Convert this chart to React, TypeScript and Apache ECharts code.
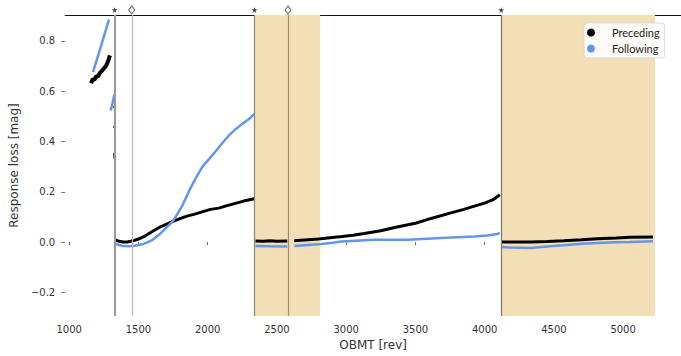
import React, { useEffect, useRef } from "react";
import * as echarts from "echarts";

// ---- data ----
const xTicks = [1000, 1500, 2000, 2500, 3000, 3500, 4000, 4500, 5000];
const yTicks = [-0.2, 0, 0.2, 0.4, 0.6, 0.8];

const precedingSeg1 = [[1158, 0.632], [1170, 0.648], [1182, 0.645], [1195, 0.66], [1208, 0.658], [1220, 0.672], [1235, 0.68], [1250, 0.69], [1265, 0.70], [1280, 0.718], [1294, 0.742]];
const precedingDots = [[1328, 0.537], [1328, 0.458], [1327, 0.35], [1328, 0.342], [1329, 0.336]];
const precedingSeg2 = [[1330, 0.01], [1360, 0.003], [1390, 0.0], [1420, 0.0], [1460, 0.005], [1500, 0.012], [1550, 0.025], [1600, 0.042], [1650, 0.058], [1700, 0.07], [1750, 0.082], [1800, 0.093], [1850, 0.103], [1900, 0.11], [1960, 0.12], [2020, 0.13], [2080, 0.135], [2140, 0.145], [2200, 0.154], [2260, 0.163], [2336, 0.172]];
const precedingSeg3a = [[2345, 0.004], [2400, 0.003], [2450, 0.005], [2500, 0.003], [2575, 0.004]];
const precedingSeg3b = [[2625, 0.005], [2700, 0.008], [2800, 0.012], [2900, 0.018], [2970, 0.022], [3050, 0.027], [3130, 0.034], [3250, 0.045], [3350, 0.058], [3500, 0.075], [3620, 0.095], [3750, 0.115], [3850, 0.13], [3950, 0.147], [4000, 0.155], [4066, 0.17], [4110, 0.188]];
const precedingSeg4 = [[4122, 0.0], [4200, 0.0], [4332, 0.0], [4450, 0.002], [4570, 0.005], [4700, 0.009], [4813, 0.013], [4950, 0.016], [5050, 0.019], [5215, 0.02]];

const followingSeg1 = [[1172, 0.676], [1230, 0.78], [1287, 0.885]];
const followingSeg1b = [[1300, 0.523], [1312, 0.55], [1327, 0.589]];
const followingSeg2 = [[1330, -0.005], [1360, -0.012], [1390, -0.016], [1430, -0.017], [1460, -0.016], [1520, -0.01], [1560, -0.002], [1603, 0.009], [1650, 0.03], [1697, 0.055], [1747, 0.082], [1780, 0.11], [1819, 0.147], [1869, 0.207], [1910, 0.25], [1962, 0.30], [2010, 0.33], [2056, 0.36], [2100, 0.39], [2153, 0.424], [2200, 0.448], [2250, 0.47], [2300, 0.49], [2336, 0.51]];
const followingSeg3a = [[2345, -0.016], [2450, -0.017], [2575, -0.018]];
const followingSeg3b = [[2625, -0.016], [2700, -0.013], [2824, -0.008], [2900, -0.003], [2968, 0.002], [3100, 0.006], [3205, 0.009], [3449, 0.009], [3550, 0.012], [3686, 0.016], [3800, 0.019], [3923, 0.022], [4020, 0.026], [4090, 0.032], [4110, 0.035]];
const followingSeg4 = [[4122, -0.02], [4200, -0.022], [4332, -0.024], [4450, -0.018], [4570, -0.013], [4700, -0.007], [4813, -0.004], [4950, -0.001], [5050, 0.0], [5215, 0.003]];

const eventStars = [1328, 2338, 4120];
const eventDiamonds = [1452, 2580];
const shadedRanges = [[2338, 2812], [4120, 5230]];
const markerLevel = 0.923;

const STAR = "path://M50,0 L61,35 L98,35 L68,57 L79,91 L50,70 L21,91 L32,57 L2,35 L39,35 Z";

export default function App() {
  const ref = useRef<HTMLDivElement>(null);
  useEffect(() => {
    if (!ref.current) return;
    const chart = echarts.init(ref.current, null, { renderer: "svg" });
    const font = "DejaVu Sans";
    const lineSeries = (name: string, data: number[][], color: string, width: number, z: number) => ({
      type: "line",
      name,
      data,
      showSymbol: false,
      symbol: "none",
      lineStyle: { color, width },
      itemStyle: { color },
      z,
    });
    chart.setOption({
      animation: false,
      grid: { left: 62, right: 0, top: 15, bottom: 38 },
      legend: {
        data: [
          { name: "Preceding", icon: "circle" },
          { name: "Following", icon: "circle" },
        ],
        orient: "vertical",
        left: 584,
        top: 23,
        padding: [4, 5, 4, 3],
        itemGap: 5,
        itemWidth: 32,
        itemHeight: 8,
        backgroundColor: "rgba(255,255,255,0.9)",
        borderColor: "#d8d8d8",
        borderWidth: 1,
        borderRadius: 3,
        textStyle: { fontFamily: "Lato", fontSize: 11, color: "#222", padding: [0, 0, 0, 0] },
      },
      xAxis: [
        {
          type: "value",
          min: 971,
          max: 5418,
          position: "bottom",
          name: "OBMT [rev]",
          nameLocation: "middle",
          nameGap: 23,
          nameTextStyle: { fontFamily: font, fontSize: 12, color: "#333" },
          axisLine: { show: false },
          axisTick: { show: true, customValues: xTicks, length: 3, lineStyle: { color: "#666" } },
          axisLabel: { customValues: xTicks, margin: 8, fontFamily: font, fontSize: 10, color: "#333", formatter: (v: number) => String(v) },
          splitLine: { show: false },
        },
        {
          type: "value",
          min: 971,
          max: 5418,
          position: "top",
          axisLine: { show: true, lineStyle: { color: "#111", width: 1.2 } },
          axisTick: { show: false },
          axisLabel: { show: false },
          splitLine: { show: false },
        },
      ],
      yAxis: {
        type: "value",
        min: -0.294,
        max: 0.903,
        name: "Response loss [mag]",
        nameLocation: "middle",
        nameGap: 37,
        nameTextStyle: { fontFamily: font, fontSize: 12, color: "#333" },
        axisLine: { show: false },
        axisTick: { show: true, customValues: yTicks, length: 4, lineStyle: { color: "#777" } },
        axisLabel: {
          customValues: yTicks,
          margin: 10,
          fontFamily: font,
          fontSize: 10,
          color: "#333",
          formatter: (v: number) => (v < 0 ? "\u2212" + Math.abs(v).toFixed(1) : v.toFixed(1)),
        },
        splitLine: { show: false },
      },
      series: [
        {
          type: "line",
          name: "background",
          data: [],
          silent: true,
          z: 1,
          markArea: {
            silent: true,
            itemStyle: { color: "#f2dfb6" },
            data: shadedRanges.map((r) => [{ xAxis: r[0] }, { xAxis: r[1] }]),
          },
          markLine: {
            silent: true,
            symbol: "none",
            label: { show: false },
            data: [
              { xAxis: eventStars[0], lineStyle: { color: "#9a9a9a", width: 2, type: "solid" } },
              { xAxis: eventDiamonds[0], lineStyle: { color: "#d3a6e0", width: 1.2, type: "solid" } },
              { xAxis: eventStars[1], lineStyle: { color: "#8a8478", width: 1.2, type: "solid" } },
              { xAxis: eventDiamonds[1], lineStyle: { color: "#a38a6e", width: 1.2, type: "solid" } },
              { xAxis: eventStars[2], lineStyle: { color: "#7c786e", width: 1.2, type: "solid" } },
            ],
          },
        },
        lineSeries("Preceding", precedingSeg1, "#000", 4, 3),
        lineSeries("Preceding", precedingSeg2, "#000", 3, 3),
        lineSeries("Preceding", precedingSeg3a, "#000", 3, 3),
        lineSeries("Preceding", precedingSeg3b, "#000", 3, 3),
        lineSeries("Preceding", precedingSeg4, "#000", 3, 3),
        {
          type: "scatter",
          name: "Preceding",
          data: precedingDots,
          symbolSize: 3,
          itemStyle: { color: "#000" },
          z: 3,
        },
        lineSeries("Following", followingSeg1, "#6495ed", 2.5, 4),
        lineSeries("Following", followingSeg1b, "#6495ed", 2.5, 4),
        lineSeries("Following", followingSeg2, "#6495ed", 2.5, 4),
        lineSeries("Following", followingSeg3a, "#6495ed", 2.5, 4),
        lineSeries("Following", followingSeg3b, "#6495ed", 2.5, 4),
        lineSeries("Following", followingSeg4, "#6495ed", 2.5, 4),
        {
          type: "scatter",
          name: "stars",
          clip: false,
          data: eventStars.map((x) => [x, markerLevel]),
          symbol: STAR,
          symbolSize: 6,
          itemStyle: { color: "#111" },
          z: 5,
        },
        {
          type: "scatter",
          name: "diamonds",
          clip: false,
          data: eventDiamonds.map((x) => [x, markerLevel]),
          symbol: "diamond",
          symbolSize: [6, 8],
          itemStyle: { color: "#fff", borderColor: "#444", borderWidth: 1 },
          z: 5,
        },
      ],
    });
    return () => chart.dispose();
  }, []);
  return <div ref={ref} style={{ position: "absolute", left: 0, top: 0, width: 681, height: 356 }} />;
}
